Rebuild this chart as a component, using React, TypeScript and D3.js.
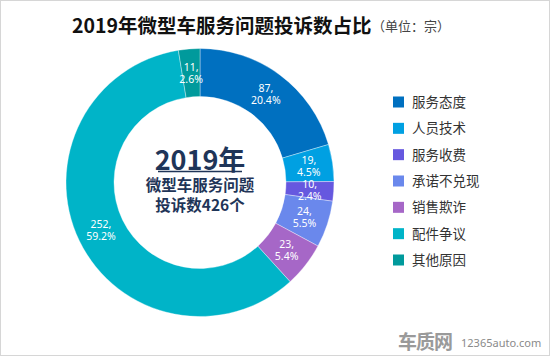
import React from "react";
import * as d3 from "d3";

const categories = ["服务态度", "人员技术", "服务收费", "承诺不兑现", "销售欺诈", "配件争议", "其他原因"];
const values = [87, 19, 10, 24, 23, 252, 11];
const percents = ["20.4%", "4.5%", "2.4%", "5.5%", "5.4%", "59.2%", "2.6%"];
const colors = ["#0070C0", "#00A0E2", "#6658DF", "#6A88EC", "#A667C7", "#00B4C8", "#009A9C"];
const titleText = "2019年微型车服务问题投诉数占比";
const unitText = "（单位：宗）";
const centerLines = ["2019年", "微型车服务问题", "投诉数426个"];

const W = 550;
const H = 356;
const CX = 200;
const CY = 182.5;
const R_OUT = 134;
const R_IN = 86;
const FONT = "'Noto Sans CJK SC', 'Noto Sans', sans-serif";

export default function App() {
  const pie = d3.pie<number>().sort(null).value((d) => d)(values);
  const arc = d3.arc<d3.PieArcDatum<number>>().innerRadius(R_IN).outerRadius(R_OUT);
  const labelArc = d3.arc<d3.PieArcDatum<number>>().innerRadius((R_IN + R_OUT) / 2).outerRadius((R_IN + R_OUT) / 2);
  const legendY = d3.scalePoint<number>().domain(d3.range(categories.length)).range([102, 260]);

  return (
    <>
      <style>{"body{margin:0}"}</style>
      <svg width={W} height={H} style={{ display: "block" }}>
        <rect x={0.5} y={0.5} width={W - 1} height={H - 1} fill="#fff" stroke="#d6d6d6" />
        <text x={72} y={33} fontFamily={FONT} fontWeight="bold" fontSize={19.5} fill="#111">{titleText}</text>
        <text x={372} y={31} fontFamily={FONT} fontSize={13} fill="#444">{unitText}</text>
        <g transform={`translate(${CX},${CY})`}>
          {pie.map((d, i) => (
            <path key={i} d={arc(d) || ""} fill={colors[i]} stroke="#fff" strokeWidth={0.6} strokeOpacity={0.6} />
          ))}
          {pie.map((d, i) => {
            const [x, y] = labelArc.centroid(d);
            return (
              <g key={"l" + i}>
                <text x={x} y={y - 2} textAnchor="middle" fontFamily="'Noto Sans', sans-serif" fontSize={10.5} fill="#fff">{values[i] + ","}</text>
                <text x={x} y={y + 10} textAnchor="middle" fontFamily="'Noto Sans', sans-serif" fontSize={10.5} fill="#fff">{percents[i]}</text>
              </g>
            );
          })}
          <text x={0} y={-13} textAnchor="middle" fontFamily={FONT} fontWeight="bold" fontSize={27} fill="#1F3558">{centerLines[0]}</text>
          <line x1={-42} x2={42} y1={-11} y2={-11} stroke="#1F3558" strokeWidth={1.5} />
          <text x={0} y={8} textAnchor="middle" fontFamily={FONT} fontWeight="bold" fontSize={15.5} fill="#1F3558">{centerLines[1]}</text>
          <text x={0} y={28} textAnchor="middle" fontFamily={FONT} fontWeight="bold" fontSize={15.5} fill="#1F3558">{centerLines[2]}</text>
        </g>
        {categories.map((c, i) => (
          <g key={"lg" + i} transform={`translate(393,${legendY(i)})`}>
            <rect x={0} y={-5.5} width={11} height={11} fill={colors[i]} />
            <text x={19} y={5} fontFamily={FONT} fontSize={13.5} fill="#333">{c}</text>
          </g>
        ))}
        <text x={398} y={349} fontFamily={FONT} fontWeight="bold" fontSize={19} fill="#9a9a9a" letterSpacing={-1}>车质网</text>
        <text x={461} y={347} fontFamily="'Noto Sans', sans-serif" fontSize={11} fill="#8a8a8a">12365auto.com</text>
      </svg>
    </>
  );
}
